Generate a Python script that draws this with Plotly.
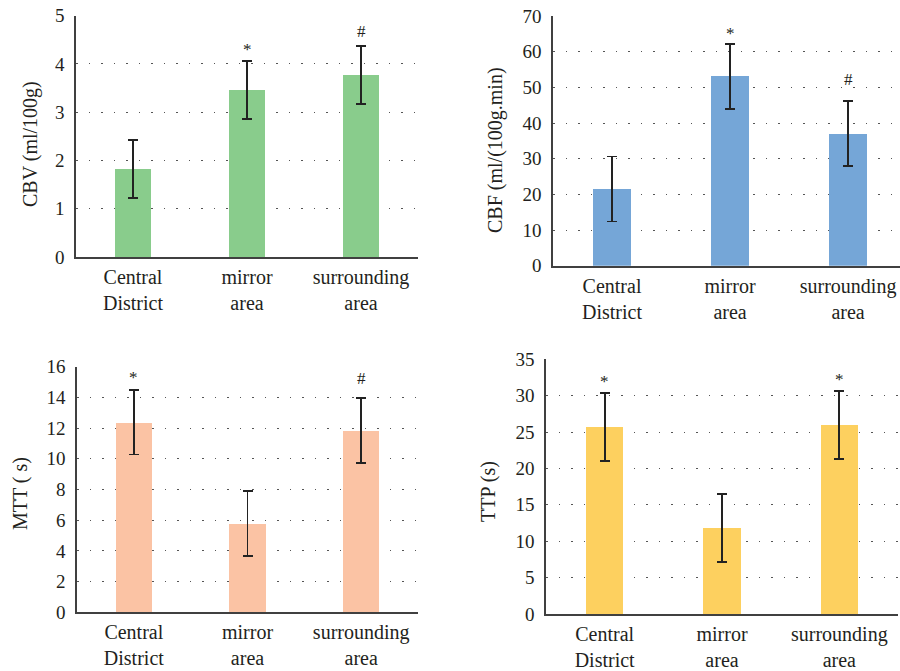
import plotly.graph_objects as go

categories = ["Central<br>District", "mirror<br>area", "surrounding<br>area"]

cbv_mean = [1.82, 3.46, 3.77]
cbv_sd = [0.60, 0.60, 0.60]
cbv_marks = ["", "*", "#"]

cbf_mean = [21.5, 53.1, 37.0]
cbf_sd = [9.1, 9.1, 9.1]
cbf_marks = ["", "*", "#"]

mtt_mean = [12.38, 5.78, 11.85]
mtt_sd = [2.1, 2.1, 2.1]
mtt_marks = ["*", "", "#"]

ttp_mean = [25.7, 11.8, 25.95]
ttp_sd = [4.7, 4.7, 4.7]
ttp_marks = ["*", "", "*"]

y_titles = ["CBV (ml/100g)", "CBF (ml/(100g.min)", "MTT ( s)", "TTP (s)"]
y_ranges = [[0, 5], [0, 70], [0, 16], [0, 35]]
y_dticks = [1, 10, 2, 5]

W, H = 900, 671
FONT = "'Liberation Serif', 'Times New Roman', 'DejaVu Serif', serif"
TXT = "#231f20"

panels = [
    dict(mean=cbv_mean, sd=cbv_sd, marks=cbv_marks, color="#89cc8c",
         px=(76, 418), py=(15.7, 257), xr=[-0.5, 2.5], title_xy=(30, 144), marksh=[0, 0, 3]),
    dict(mean=cbf_mean, sd=cbf_sd, marks=cbf_marks, color="#75a6d7",
         px=(553, 900), py=(16, 265.7), xr=[-0.5, 2.44], title_xy=(495, 150), marksh=[0, -1, 10]),
    dict(mean=mtt_mean, sd=mtt_sd, marks=mtt_marks, color="#fbc3a4",
         px=(77, 418), py=(366.7, 612.3), xr=[-0.5, 2.5], title_xy=(20, 494), marksh=[1, 0, 8]),
    dict(mean=ttp_mean, sd=ttp_sd, marks=ttp_marks, color="#fdd05f",
         px=(546, 898), py=(359.3, 614), xr=[-0.5, 2.5], title_xy=(488, 492), marksh=[0, 0, 0]),
]

fig = go.Figure()
annotations = []
for i, p in enumerate(panels):
    n = "" if i == 0 else str(i + 1)
    xa, ya = "x" + n, "y" + n
    fig.add_trace(go.Bar(
        x=list(range(len(categories))), y=p["mean"], xaxis=xa, yaxis=ya,
        width=0.32, marker=dict(color=p["color"], line=dict(width=0)),
        error_y=dict(type="data", array=p["sd"], visible=True,
                     color="#222222", thickness=1.8, width=5),
        showlegend=False, hoverinfo="skip",
    ))
    x0, x1 = p["px"]
    ytop, ybot = p["py"]
    fig.layout["xaxis" + n] = dict(
        domain=[x0 / W, x1 / W], range=p["xr"], anchor=ya, automargin=False,
        tickmode="array", tickvals=list(range(len(categories))), ticktext=categories,
        showline=True, linecolor="#404040", linewidth=1.6, ticks="",
        showgrid=False, zeroline=False,
        tickfont=dict(family=FONT, size=20, color=TXT), ticklabelstandoff=1,
    )
    fig.layout["yaxis" + n] = dict(
        domain=[1 - ybot / H, 1 - ytop / H], range=y_ranges[i], anchor=xa, automargin=False,
        dtick=y_dticks[i], tick0=0,
        showline=True, linecolor="#404040", linewidth=1.6, ticks="",
        showgrid=True, gridcolor="#555555", gridwidth=1.3, griddash="1.5px,11px",
        zeroline=False,
        tickfont=dict(family=FONT, size=19, color=TXT), ticklabelstandoff=6,
    )
    tx, ty = p["title_xy"]
    annotations.append(dict(
        text=y_titles[i], xref="paper", yref="paper", x=tx / W, y=1 - ty / H,
        xanchor="center", yanchor="middle", textangle=-90, showarrow=False,
        font=dict(family=FONT, size=20, color=TXT),
    ))
    for j, m in enumerate(p["marks"]):
        if m:
            annotations.append(dict(
                text=m, xref=xa, yref=ya, x=j, y=p["mean"][j] + p["sd"][j],
                xanchor="center", yanchor="bottom", showarrow=False,
                yshift=p["marksh"][j],
                font=dict(family=FONT, size=17, color=TXT),
            ))

fig.update_layout(
    template="none",
    width=W, height=H, margin=dict(l=0, r=0, t=0, b=0, autoexpand=False),
    paper_bgcolor="white", plot_bgcolor="white",
    font=dict(family=FONT, color=TXT),
    annotations=annotations, bargap=0,
)

fig.write_html("out.html", config={"displayModeBar": False},
               post_script="document.body.style.margin='0';")
